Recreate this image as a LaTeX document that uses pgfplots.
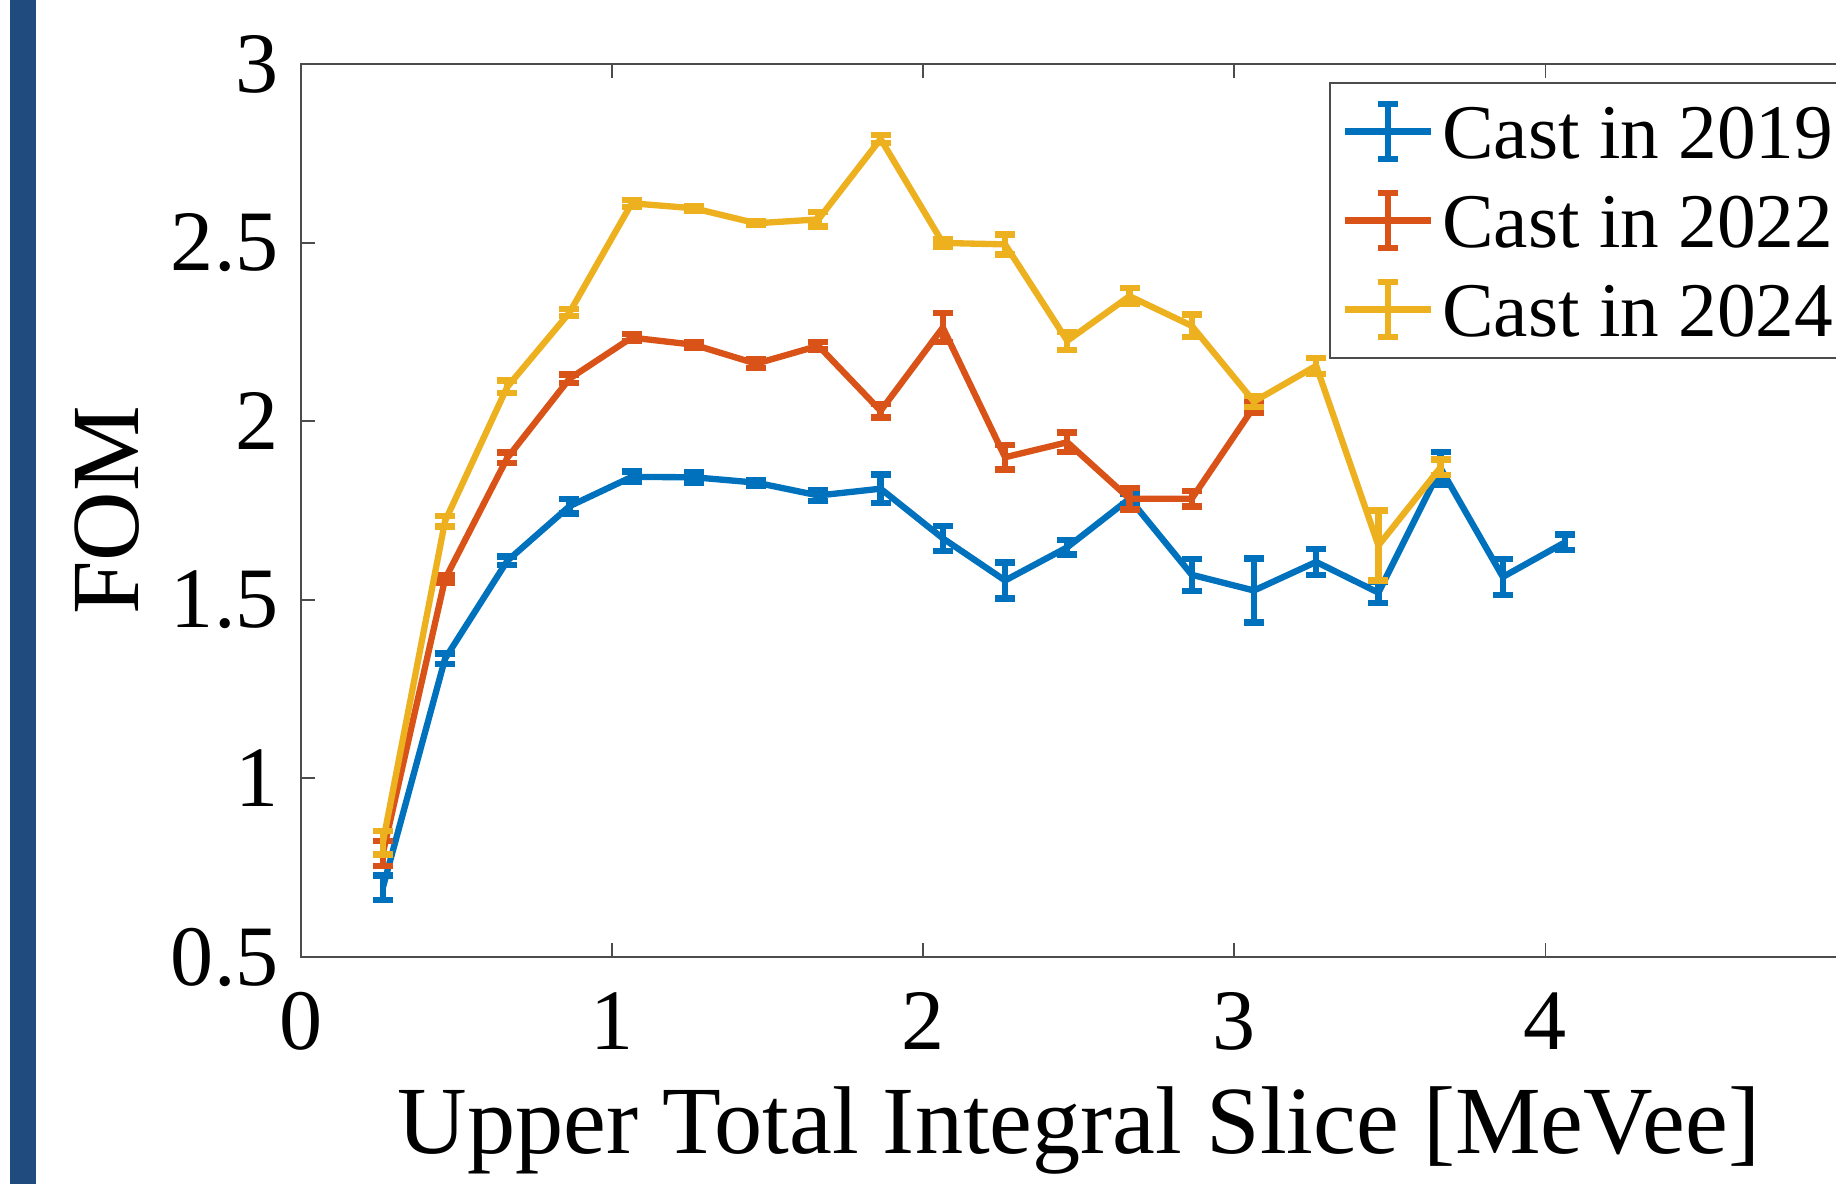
\documentclass[border=0pt]{standalone}
\usepackage{fontspec}
\setmainfont{Liberation Serif}
\usepackage{pgfplots}
\usepackage{pgfplotstable}
\pgfplotsset{compat=1.18}
\definecolor{c19}{HTML}{0072BD}
\definecolor{c22}{HTML}{D95319}
\definecolor{c24}{HTML}{EDB120}
\definecolor{slidebar}{HTML}{1F4B7F}

% FOM vs upper slice, error = half bar height
\pgfplotstableread{
x     y      e
0.263 0.694  0.034
0.463 1.335  0.015
0.663 1.609  0.012
0.863 1.762  0.020
1.063 1.844  0.015
1.263 1.843  0.015
1.463 1.828  0.008
1.663 1.792  0.015
1.863 1.811  0.040
2.063 1.672  0.035
2.263 1.554  0.050
2.463 1.647  0.020
2.663 1.783  0.015
2.863 1.570  0.045
3.063 1.526  0.090
3.263 1.606  0.037
3.463 1.520  0.029
3.663 1.868  0.045
3.863 1.564  0.050
4.063 1.661  0.022
}\castA
\pgfplotstableread{
x     y      e
0.263 0.790  0.035
0.463 1.558  0.010
0.663 1.897  0.015
0.863 2.119  0.012
1.063 2.234  0.010
1.263 2.214  0.008
1.463 2.161  0.012
1.663 2.211  0.010
1.863 2.029  0.019
2.063 2.262  0.040
2.263 1.899  0.034
2.463 1.941  0.027
2.663 1.783  0.030
2.863 1.783  0.022
3.063 2.040  0.018
}\castB
\pgfplotstableread{
x     y      e
0.263 0.820  0.033
0.463 1.720  0.015
0.663 2.096  0.018
0.863 2.304  0.010
1.063 2.610  0.010
1.263 2.596  0.006
1.463 2.554  0.005
1.663 2.565  0.020
1.863 2.790  0.012
2.063 2.499  0.010
2.263 2.495  0.028
2.463 2.225  0.025
2.663 2.350  0.022
2.863 2.267  0.032
3.063 2.055  0.015
3.263 2.155  0.022
3.463 1.652  0.098
3.663 1.871  0.022
}\castC

\begin{document}
\begin{tikzpicture}
\fill[slidebar] (0.10,0) rectangle (0.36,11.84);
\begin{axis}[at={(3.01cm,2.27cm)},anchor=south west,
  scale only axis,width=15.556cm,height=8.93cm,
  xmin=0,xmax=5,ymin=0.5,ymax=3,
  xtick={0,1,2,3,4,5},ytick={0.5,1,1.5,2,2.5,3},
  axis line style={draw=black!70,line width=0.55pt},
  every tick/.style={draw=black!70,line width=0.55pt},
  major tick length=1.4mm,
  /pgf/number format/assume math mode=true,
  ticklabel style={font=\fontsize{24.5}{29}\selectfont},
  xticklabel style={yshift=-2.3mm},
  yticklabel style={xshift=-1.0mm},
  label style={font=\fontsize{27.4}{32}\selectfont},
  xlabel={Upper Total Integral Slice [MeVee]},
  ylabel={FOM},
  xlabel style={at={(axis description cs:0.5,-0.2195)},anchor=base},
  ylabel style={at={(axis description cs:-0.1247,0.5)},anchor=center},
  every axis plot/.append style={line width=1.8pt,mark=none},
  error bars/y dir=both,error bars/y explicit,
  error bars/error bar style={line width=1.8pt},
  error bars/error mark options={rotate=90,mark size=1mm,line width=1.8pt},
  legend image code/.code={
    \draw[#1,line width=1.8pt] (0mm,0mm) -- (8.6mm,0mm);
    \draw[#1,line width=1.8pt,overlay] (4.3mm,-2.75mm) -- (4.3mm,2.75mm)
      (3.3mm,-2.75mm) -- (5.3mm,-2.75mm) (3.3mm,2.75mm) -- (5.3mm,2.75mm);
  },
  legend cell align=left,
  legend style={at={(axis description cs:0.6608,0.980)},anchor=north west,
    draw=black!70,line width=0.55pt,fill=white,
    inner xsep=1.2mm,inner ysep=0.42mm,row sep=0pt,
    font=\fontsize{22}{26}\selectfont,
    nodes={inner xsep=0.8mm,inner ysep=1.75mm,text height=5.4mm,text depth=0pt}},
]
\addplot[c19] table[x=x,y=y,y error=e] {\castA};
\addplot[c22] table[x=x,y=y,y error=e] {\castB};
\addplot[c24] table[x=x,y=y,y error=e] {\castC};
\legend{Cast in 2019,Cast in 2022,Cast in 2024}
\end{axis}
\pgfresetboundingbox
\useasboundingbox (0,0) rectangle (18.36,11.84);
\end{tikzpicture}
\end{document}
